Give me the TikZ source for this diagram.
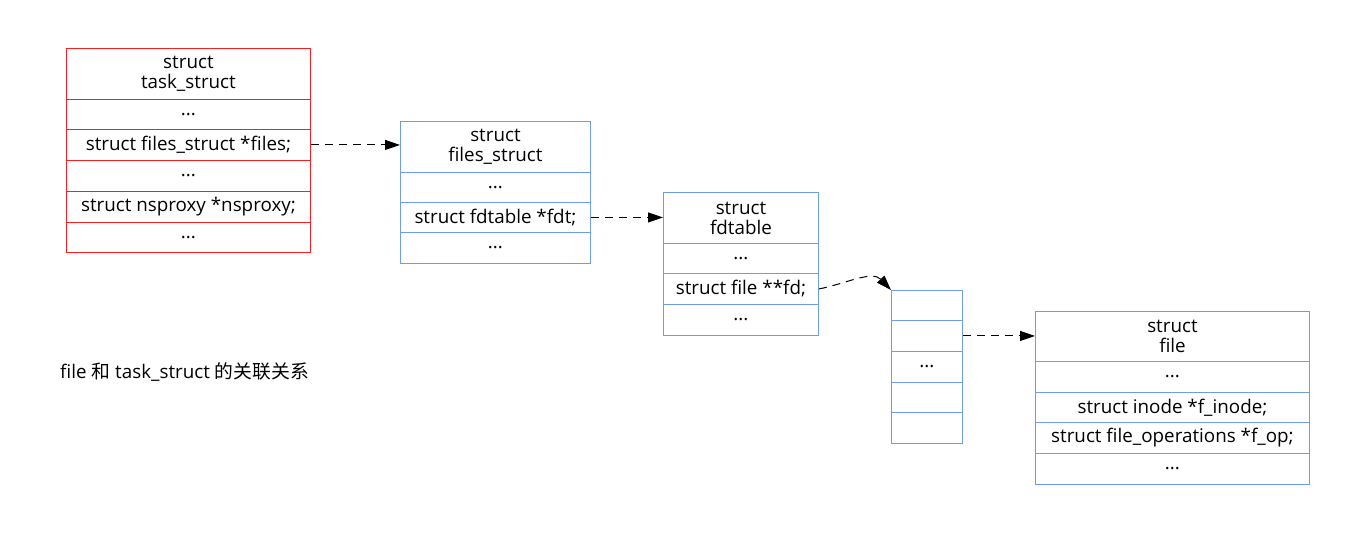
\documentclass[tikz,border=0pt]{standalone}
\usepackage{fontspec}
\setmainfont{Open Sans}
\newfontfamily\cjk{Noto Sans CJK SC}
\usetikzlibrary{arrows.meta}
\definecolor{rb}{RGB}{250,30,30}
\definecolor{bb}{RGB}{110,155,235}
\tikzset{
  txt/.style={font=\fontsize{18.8}{20}\selectfont},
  cellr/.style={draw=rb, line width=0.9pt, inner sep=0pt, align=center, anchor=north west, txt},
  cellb/.style={draw=bb, line width=0.9pt, inner sep=0pt, align=center, anchor=north west, txt},
  arr/.style={-{Triangle[length=15pt,width=10pt]}, dash pattern=on 8pt off 6pt, line width=1pt, black},
}
\newcommand\cellbox[7]{\node[#1, minimum width=#5pt, minimum height=#6pt] (#2) at (#3,#4) {#7};}
\begin{document}
\begin{tikzpicture}[x=1pt,y=-1pt]
\useasboundingbox (0,0) rectangle (1357,533);
% task_struct
\cellbox{cellr}{t0}{66}{48}{244}{51}{struct\\task\_struct}
\cellbox{cellr}{t1}{66}{99}{244}{30}{...}
\cellbox{cellr}{t2}{66}{129}{244}{31}{struct files\_struct *files;}
\cellbox{cellr}{t3}{66}{160}{244}{31}{...}
\cellbox{cellr}{t4}{66}{191}{244}{31}{struct nsproxy *nsproxy;}
\cellbox{cellr}{t5}{66}{222}{244}{30}{...}
% files_struct
\cellbox{cellb}{f0}{400}{121}{190}{51}{struct\\files\_struct}
\cellbox{cellb}{f1}{400}{172}{190}{30}{...}
\cellbox{cellb}{f2}{400}{202}{190}{30}{struct fdtable *fdt;}
\cellbox{cellb}{f3}{400}{232}{190}{31}{...}
% fdtable
\cellbox{cellb}{d0}{663}{192}{155}{51}{struct\\fdtable}
\cellbox{cellb}{d1}{663}{243}{155}{30}{...}
\cellbox{cellb}{d2}{663}{273}{155}{31}{struct file **fd;}
\cellbox{cellb}{d3}{663}{304}{155}{31}{...}
% array
\cellbox{cellb}{a0}{891}{290}{71}{30}{}
\cellbox{cellb}{a1}{891}{320}{71}{31}{}
\cellbox{cellb}{a2}{891}{351}{71}{31}{...}
\cellbox{cellb}{a3}{891}{382}{71}{30}{}
\cellbox{cellb}{a4}{891}{412}{71}{31}{}
% file
\cellbox{cellb}{e0}{1035}{311}{274}{50}{struct\\file}
\cellbox{cellb}{e1}{1035}{361}{274}{31}{...}
\cellbox{cellb}{e2}{1035}{392}{274}{30}{struct inode *f\_inode;}
\cellbox{cellb}{e3}{1035}{422}{274}{31}{struct file\_operations *f\_op;}
\cellbox{cellb}{e4}{1035}{453}{274}{31}{...}
% arrows
\draw[arr] (t2.east) -- (t2.east -| f0.west);
\draw[arr] (f2.east) -- (f2.east -| d0.west);
\draw[arr] (d2.east) .. controls (845,284) and (872,270) .. (a0.north west);
\draw[arr] (a1.east) -- (a1.east -| e0.west);
% caption
\node[anchor=west, inner sep=0pt, txt] (cap) at (60,372) {file {\cjk 和} task\_struct {\cjk 的关联关系}};
\end{tikzpicture}
\end{document}
